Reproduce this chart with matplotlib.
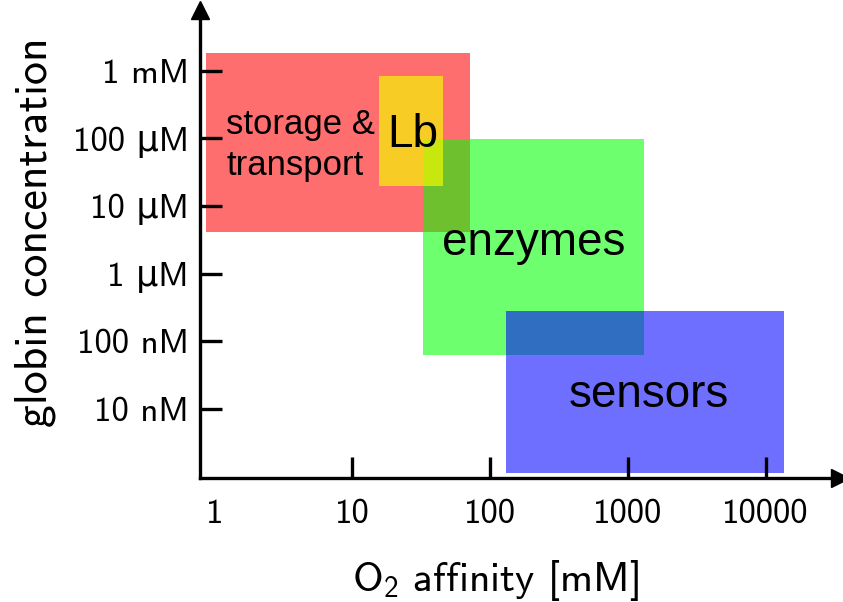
import numpy as np
import matplotlib
matplotlib.use("Agg")
import matplotlib.pyplot as plt
from matplotlib.patches import Rectangle

# globin classes: O2 affinity range (x) and concentration range in M (y)
groups = ["storage", "enzymes", "Lb", "sensors"]
affinity_lo = [0.87, 32.8, 15.7, 131]
affinity_hi = [72, 1320, 45.8, 13700]
conc_lo = [4.15e-6, 6.3e-8, 2.0e-5, 1.13e-9]
conc_hi = [1.85e-3, 9.9e-5, 8.4e-4, 2.8e-7]
colors = ["#ff0000", "#00ff00", "#f4fb00", "#0000ff"]
alphas = [0.57, 0.57, 0.67, 0.57]

x_ticks = [1, 10, 100, 1000, 10000]
x_labels = ["1", "10", "100", "1000", "10000"]
y_ticks = [1e-3, 1e-4, 1e-5, 1e-6, 1e-7, 1e-8]
y_labels = ["1 mM", "100 \u03bcM", "10 \u03bcM", "1 \u03bcM", "100 nM", "10 nM"]

plt.rcParams["font.family"] = ["cmss10", "DejaVu Sans"]
plt.rcParams["axes.formatter.use_mathtext"] = True
plt.rcParams["mathtext.fontset"] = "custom"
plt.rcParams["mathtext.rm"] = "cmss10"

fig = plt.figure(figsize=(8.43, 6.02), dpi=100)
ax = fig.add_axes([200 / 843, 124 / 602, 640 / 843, 468 / 602])
ax.set_xscale("log")
ax.set_yscale("log")
ax.set_xlim(10 ** -0.105, 10 ** 4.54)
ax.set_ylim(10 ** -9.02, 10 ** -2.10)

for x0, x1, y0, y1, c, a in zip(affinity_lo, affinity_hi, conc_lo, conc_hi, colors, alphas):
    ax.add_patch(Rectangle((x0, y0), x1 - x0, y1 - y0, facecolor=c, alpha=a,
                           edgecolor="none", zorder=1))

box_font = ["Liberation Sans", "DejaVu Sans"]
ax.text(1.22, 8.0e-5, "storage &\ntransport", fontsize=25, family=box_font,
        ha="left", va="center", linespacing=1.3, zorder=3)
ax.text(27.3, 1.13e-4, "Lb", fontsize=33, family=box_font,
        ha="center", va="center", zorder=3)
ax.text(206, 2.86e-6, "enzymes", fontsize=33, family=box_font,
        ha="center", va="center", zorder=3)
ax.text(1413, 1.62e-8, "sensors", fontsize=33, family=box_font,
        ha="center", va="center", zorder=3)

for s in ["top", "right"]:
    ax.spines[s].set_visible(False)
for s in ["left", "bottom"]:
    ax.spines[s].set_linewidth(2.4)
    ax.spines[s].set_zorder(4)

ax.set_xticks(x_ticks)
ax.set_xticklabels(x_labels)
ax.set_yticks(y_ticks)
ax.set_yticklabels(y_labels)
ax.minorticks_off()
ax.tick_params(axis="y", direction="in", length=16, width=2.4, pad=8, labelsize=25)
ax.tick_params(axis="x", direction="in", length=15, width=2.4, pad=15, labelsize=25)
ax.xaxis.get_major_ticks()[0].tick1line.set_visible(False)

# arrow heads on both axes
ax.plot(1, 0, marker=">", markersize=13, color="black", transform=ax.transAxes,
        clip_on=False, zorder=5)
ax.plot(0, 1, marker="^", markersize=13, color="black", transform=ax.transAxes,
        clip_on=False, zorder=5)

ax.set_xlabel("O$_2$ affinity [mM]", fontsize=30)
ax.set_ylabel("globin concentration", fontsize=33)
ax.xaxis.set_label_coords(0.461, -0.17)
ax.yaxis.set_label_coords(-0.225, 0.526)

fig.savefig("out.png", dpi=100)
